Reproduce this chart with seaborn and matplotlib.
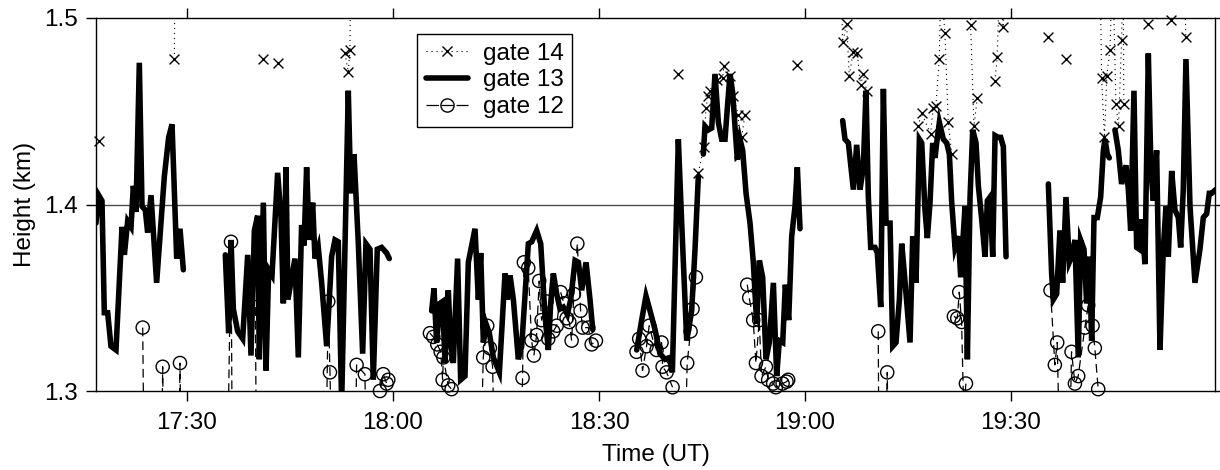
import numpy as np
import pandas as pd
import matplotlib
matplotlib.use("Agg")
import matplotlib.pyplot as plt
import seaborn as sns
from matplotlib.lines import Line2D

NaN = np.nan

# time in minutes after 17:00 UT, height in km
gate13_t = [16.75, 17.14, 17.62, 17.96, 18.45, 18.93, 19.66, 20.54, 20.88, 21.36, 21.85, 22.19, 22.57, 23.06,
            23.45, 23.93, 24.27, 24.76, 25.58, 26.70, 27.33, 27.82, 28.50, 28.98, 29.47, NaN,
            35.58, 36.07, 36.41, 36.75, 37.38, 38.11, 38.84, 39.32, 39.81, 40.29, 40.53, 41.12, 41.51, 41.89,
            42.38, 43.20, 43.69, 44.03, 44.42, 44.70, 45.72, 46.21, 46.69, 47.04, 47.42, 47.81, 48.30, 48.64,
            49.12, 49.61, 50.34, 50.72, 51.06, 51.55, 52.03, 52.52, 53.49, 53.73, 53.98, 54.32, 54.95, 55.58,
            56.06, 56.65, 57.13, 57.71, 58.34, 59.07, 59.46, NaN,
            65.63, 65.97, 66.35, 66.84, 67.23, 67.57, 68.05, 68.39, 68.78, 69.41, 69.85, 70.48, 70.97, 71.94,
            72.43, 72.77, 73.16, 73.55, 74.03, 74.61, 75.49, 76.31, 76.65, 77.04, 77.53, 78.25, 78.74, 79.71,
            80.20, 80.92, 81.51, 82.14, 82.62, 82.96, 83.35, 83.84, 84.32, 84.81, 85.39, 85.88, 86.51, 87.00,
            87.48, 88.11, 88.69, 89.08, NaN,
            95.49, 96.21, 96.84, 97.43, 98.15, 98.88, 99.61, 100.34, 100.68, 101.55, 102.04, 102.77, 103.49,
            103.98, 104.46, NaN,
            105.19, 105.43, 105.92, 106.41, 106.89, 107.38, 107.86, 108.35, 108.69, 109.08, 109.46, 109.80,
            110.14, 110.53, 110.92, 111.41, 111.99, 112.47, 112.96, 113.35, 113.83, 114.32, 114.80, 115.39,
            115.87, 116.26, 116.75, 117.13, 117.62, 118.06, 118.54, 118.88, 119.27, NaN,
            125.48, 125.82, 126.31, 127.04, 127.52, 128.01, 128.49, 128.88, 129.22, 129.56, 130.19, 130.53,
            131.02, 131.41, 131.80, 132.38, 132.77, 133.25, 133.74, 134.08, 134.42, 135.29, 135.68, 136.16,
            136.65, 136.99, 137.47, 137.81, 138.20, 138.59, 138.93, 139.17, 139.56, 140.14, 140.63, 141.02,
            141.36, 141.84, 142.33, 142.67, 142.96, 143.30, 143.64, 144.03, 144.42, 144.90, 145.24, 145.73,
            146.21, 146.55, 146.94, 147.33, 147.67, 148.15, 148.49, 148.88, 149.27, NaN,
            155.43, 155.91, 156.15, 156.64, 157.12, 157.51, 158.00, 158.48, 158.82, 159.31, 159.79, 160.13,
            160.62, 161.01, 161.40, 161.74, 162.08, 162.56, 163.05, 163.44, 163.68, 164.02, 164.31, NaN,
            165.13, 165.62, 166.10, 166.74, 167.08, 167.42, 167.90, 168.29, 168.68, 169.02, 169.50, 169.99,
            170.38, 170.72, 171.20, 171.69, 172.17, 172.56, 172.90, 173.39, 173.87, 174.36, 174.70, 175.08,
            175.47, 176.06, 176.78, 177.51, 178.00, 178.48, 178.87, 179.21, 179.80]
gate13_h = [1.390, 1.405, 1.402, 1.342, 1.342, 1.324, 1.322, 1.388, 1.373, 1.391, 1.388, 1.410, 1.396, 1.476,
            1.399, 1.397, 1.385, 1.405, 1.358, 1.415, 1.436, 1.443, 1.371, 1.387, 1.365, NaN,
            1.373, 1.331, 1.381, 1.344, 1.332, 1.328, 1.373, 1.319, 1.386, 1.394, 1.317, 1.401, 1.311, 1.365,
            1.362, 1.417, 1.393, 1.347, 1.420, 1.349, 1.371, 1.318, 1.389, 1.378, 1.420, 1.381, 1.401, 1.371,
            1.377, 1.358, 1.324, 1.349, 1.372, 1.381, 1.380, 1.293, 1.461, 1.424, 1.406, 1.427, 1.379, 1.320,
            1.379, 1.376, 1.306, 1.376, 1.377, 1.374, 1.371, NaN,
            1.343, 1.355, 1.326, 1.347, 1.348, 1.315, 1.354, 1.326, 1.315, 1.371, 1.306, 1.308, 1.369, 1.387,
            1.349, 1.374, 1.326, 1.336, 1.331, 1.318, 1.310, 1.363, 1.349, 1.362, 1.349, 1.317, 1.324, 1.379,
            1.380, 1.386, 1.379, 1.340, 1.322, 1.347, 1.363, 1.352, 1.344, 1.345, 1.341, 1.349, 1.370, 1.369,
            1.354, 1.369, 1.349, 1.333, NaN,
            1.322, 1.338, 1.351, 1.343, 1.333, 1.320, 1.317, 1.318, 1.310, 1.435, 1.390, 1.327, 1.343,
            1.376, 1.415, NaN,
            1.427, 1.442, 1.440, 1.441, 1.470, 1.444, 1.435, 1.435, 1.452, 1.470, 1.460, 1.442,
            1.424, 1.435, 1.429, 1.406, 1.390, 1.369, 1.336, 1.370, 1.361, 1.317, 1.326, 1.358,
            1.308, 1.327, 1.326, 1.357, 1.338, 1.383, 1.399, 1.420, 1.387, NaN,
            1.445, 1.435, 1.433, 1.408, 1.432, 1.408, 1.420, 1.461, 1.404, 1.377, 1.377, 1.374,
            1.345, 1.462, 1.390, 1.390, 1.324, 1.326, 1.349, 1.379, 1.365, 1.326, 1.383, 1.358,
            1.435, 1.433, 1.397, 1.382, 1.401, 1.433, 1.425, 1.433, 1.444, 1.435, 1.433, 1.427,
            1.401, 1.377, 1.383, 1.361, 1.379, 1.399, 1.317, 1.404, 1.440, 1.433, 1.410, 1.392,
            1.372, 1.402, 1.404, 1.372, 1.437, 1.436, 1.436, 1.431, 1.372, NaN,
            1.411, 1.363, 1.349, 1.352, 1.386, 1.358, 1.404, 1.369, 1.372, 1.381, 1.318, 1.381,
            1.376, 1.347, 1.372, 1.327, 1.393, 1.393, 1.404, 1.429, 1.435, 1.427, 1.425, NaN,
            1.440, 1.429, 1.411, 1.421, 1.408, 1.386, 1.461, 1.377, 1.376, 1.392, 1.368, 1.481,
            1.418, 1.402, 1.429, 1.322, 1.376, 1.399, 1.372, 1.418, 1.397, 1.393, 1.377, 1.408,
            1.478, 1.399, 1.358, 1.376, 1.393, 1.395, 1.406, 1.406, 1.408]

gate14_t = [17.24, NaN, 28.16, 28.30, NaN, 41.12, NaN, 43.20, NaN,
            53.01, 53.49, 53.73, 53.90, NaN, 101.54, NaN,
            104.46, 105.28, 105.57, 105.90, 106.10, 107.13, 108.00, 108.19, 109.06, 109.55, 110.28, 110.42,
            110.77, 111.25, NaN, 118.76, NaN,
            125.20, 125.47, 126.05, 126.44, 127.02, 127.60, 128.10, 128.48, 128.97, NaN,
            136.48, 136.97, 138.28, 138.67, 139.06, 139.54, 139.80, 140.37, 140.86, 141.35, NaN,
            144.00, 144.11, 144.60, 145.08, NaN,
            147.64, 147.98, 148.40, 148.85, 149.00, NaN, 155.40, NaN, 157.98, NaN,
            163.00, 163.19, 163.60, 163.95, 164.40, 164.80, 165.27, 165.65, 166.10, 166.30, 166.43, NaN,
            169.96, NaN, 173.22, NaN, 175.20, 175.45]
gate14_h = [1.434, NaN, 1.478, 1.560, NaN, 1.478, NaN, 1.476, NaN,
            1.481, 1.471, 1.483, 1.560, NaN, 1.470, NaN,
            1.417, 1.431, 1.452, 1.458, 1.461, 1.467, 1.468, 1.474, 1.469, 1.458, 1.448, 1.426,
            1.436, 1.448, NaN, 1.475, NaN,
            1.530, 1.487, 1.497, 1.469, 1.482, 1.481, 1.464, 1.470, 1.461, NaN,
            1.442, 1.449, 1.438, 1.452, 1.453, 1.478, 1.520, 1.492, 1.444, 1.427, NaN,
            1.530, 1.496, 1.442, 1.457, NaN,
            1.466, 1.479, 1.530, 1.495, 1.530, NaN, 1.490, NaN, 1.478, NaN,
            1.520, 1.468, 1.436, 1.469, 1.483, 1.530, 1.454, 1.442, 1.488, 1.530, 1.454, NaN,
            1.497, NaN, 1.499, NaN, 1.530, 1.490]

gate12_t = [23.55, 23.75, NaN, 26.30, 26.46, 26.65, NaN, 28.80, 28.98, 29.15, NaN,
            35.95, 36.41, 36.60, NaN, 39.95, 40.10, NaN,
            50.30, 50.57, 50.82, 51.00, NaN, 54.55, 54.70, 55.91, 56.05, NaN,
            57.95, 58.10, 58.58, 59.07, 59.31, NaN,
            65.38, 65.87, 66.45, 66.94, 67.23, 67.33, 68.04, 68.53, NaN,
            72.90, 73.14, 73.72, 74.11, 74.50, 74.70, NaN,
            78.70, 78.87, 79.06, 79.69, 80.18, 80.52, 80.91, 81.29, 81.64, 82.37, 82.61, 83.34, 83.83,
            84.41, 84.89, 85.28, 85.67, 86.01, 86.35, 86.84, 87.32, 87.62, 88.43, 88.93, 89.55, NaN,
            95.46, 95.85, 96.34, 96.92, 97.31, 97.80, 98.38, 99.11, 99.26, 99.84, 100.71, NaN,
            102.60, 102.84, 103.33, 103.62, 104.11, NaN,
            111.58, 111.87, 112.45, 112.85, 113.33, 113.67, 114.30, 114.63, 115.36, 115.75, 116.73,
            117.31, 117.55, NaN,
            130.66, 130.75, NaN, 131.80, 131.97, 132.10, NaN,
            141.68, 142.17, 142.46, 142.80, 143.10, 143.43, NaN,
            155.75, 156.38, 156.72, 157.00, NaN,
            158.60, 158.81, 159.30, 159.78, 160.75, 161.23, 161.87, 162.20, 162.69]
gate12_h = [1.334, 1.260, NaN, 1.260, 1.313, 1.250, NaN, 1.260, 1.315, 1.260, NaN,
            1.270, 1.380, 1.260, NaN, 1.345, 1.270, NaN,
            1.280, 1.348, 1.310, 1.280, NaN, 1.280, 1.314, 1.309, 1.280, NaN,
            1.280, 1.300, 1.309, 1.304, 1.306, NaN,
            1.331, 1.329, 1.325, 1.321, 1.306, 1.318, 1.303, 1.301, NaN,
            1.280, 1.318, 1.335, 1.323, 1.313, 1.280, NaN,
            1.280, 1.307, 1.369, 1.366, 1.327, 1.319, 1.330, 1.359, 1.338, 1.348, 1.328, 1.332, 1.335,
            1.353, 1.347, 1.339, 1.337, 1.327, 1.352, 1.379, 1.343, 1.334, 1.334, 1.325, 1.327, NaN,
            1.321, 1.328, 1.311, 1.324, 1.335, 1.328, 1.322, 1.326, 1.313, 1.310, 1.302, NaN,
            1.280, 1.315, 1.332, 1.344, 1.361, NaN,
            1.357, 1.350, 1.338, 1.315, 1.338, 1.308, 1.313, 1.306, 1.304, 1.302, 1.304,
            1.305, 1.306, NaN,
            1.332, 1.270, NaN, 1.270, 1.310, 1.280, NaN,
            1.340, 1.339, 1.353, 1.337, 1.290, 1.304, NaN,
            1.354, 1.314, 1.326, 1.280, NaN,
            1.280, 1.321, 1.304, 1.308, 1.334, 1.346, 1.335, 1.323, 1.301]

tick_minutes = [30, 60, 90, 120, 150]
tick_labels = ["17:30", "18:00", "18:30", "19:00", "19:30"]
y_ticks = [1.3, 1.4, 1.5]
x_range = (16.75, 179.7)
y_range = (1.3, 1.5)


def frame(t, h):
    t = np.asarray(t, float)
    h = np.asarray(h, float)
    seg = np.cumsum(np.isnan(h))
    return pd.DataFrame({"t": t, "h": h, "seg": seg}).dropna()


sns.set_style("ticks")
plt.rcParams["font.family"] = ["Liberation Sans", "DejaVu Sans"]
plt.rcParams["text.color"] = "k"
plt.rcParams["axes.labelcolor"] = "k"
plt.rcParams["xtick.color"] = "k"
plt.rcParams["ytick.color"] = "k"
FS = 17.5

fig = plt.figure(figsize=(12.2, 4.7), dpi=100)
ax = fig.add_axes([96 / 1220, 1 - 391 / 470, (1215 - 96) / 1220, (391 - 18) / 470])

ax.axhline(1.4, color="#4d4d4d", lw=1.0, zorder=0.5)

d14 = frame(gate14_t, gate14_h)
d13 = frame(gate13_t, gate13_h)
d12 = frame(gate12_t, gate12_h)

dot_ls = (0, (1, 3.5))
dash_ls = (0, (7, 4))

sns.lineplot(data=d14, x="t", y="h", units="seg", estimator=None, color="k",
             lw=0.8, linestyle=dot_ls, ax=ax, zorder=2)
sns.lineplot(data=d13, x="t", y="h", units="seg", estimator=None, color="k",
             lw=4.0, ax=ax, zorder=3, solid_joinstyle="miter")
sns.lineplot(data=d12, x="t", y="h", units="seg", estimator=None, color="k",
             lw=0.9, linestyle=dash_ls, ax=ax, zorder=4)

m14 = d14[(d14.h >= 1.299) & (d14.h <= 1.501)]
m12 = d12[(d12.h >= 1.299) & (d12.h <= 1.501)]
sns.scatterplot(data=m14, x="t", y="h", marker="x", s=50, color="k", linewidth=1.0,
                ax=ax, zorder=5, clip_on=False)
sns.scatterplot(data=m12, x="t", y="h", marker="o", s=90, facecolor="none", edgecolor="k",
                linewidth=1.0, ax=ax, zorder=6, clip_on=False)

ax.set_xlim(*x_range)
ax.set_ylim(*y_range)
ax.set_xticks(tick_minutes)
ax.set_xticklabels(tick_labels)
ax.set_yticks(y_ticks)
ax.set_yticklabels([f"{v:.1f}" for v in y_ticks])
ax.tick_params(direction="out", length=7, width=1, top=True, right=True,
               labelsize=FS, colors="k")
ax.tick_params(axis="x", pad=8)
ax.tick_params(axis="y", pad=6)
for sp in ax.spines.values():
    sp.set_visible(True)
    sp.set_color("k")
    sp.set_linewidth(1.0)

ax.set_xlabel("Time (UT)", fontsize=FS, color="k")
ax.set_ylabel("Height (km)", fontsize=FS, color="k")
ax.xaxis.set_label_coords(0.5, -0.143)
ax.yaxis.set_label_coords(-0.054, 0.5)

handles = [
    Line2D([], [], color="k", lw=0.8, linestyle=dot_ls, marker="x", ms=7, mew=1.0),
    Line2D([], [], color="k", lw=4.0),
    Line2D([], [], color="k", lw=0.9, linestyle=(0, (10, 2)), marker="o", ms=9.5,
           mfc="none", mew=1.0),
]
leg = ax.legend(handles, ["gate 14", "gate 13", "gate 12"], loc="upper left",
                bbox_to_anchor=(0.287, 0.957), borderaxespad=0, fontsize=FS,
                frameon=True, fancybox=False, framealpha=1, edgecolor="k",
                handlelength=1.75, handletextpad=0.6, labelspacing=0.2,
                borderpad=0.35)
leg.get_frame().set_linewidth(1.0)
leg.set_zorder(10)
for txt in leg.get_texts():
    txt.set_color("k")

fig.savefig("out.png", dpi=100)
